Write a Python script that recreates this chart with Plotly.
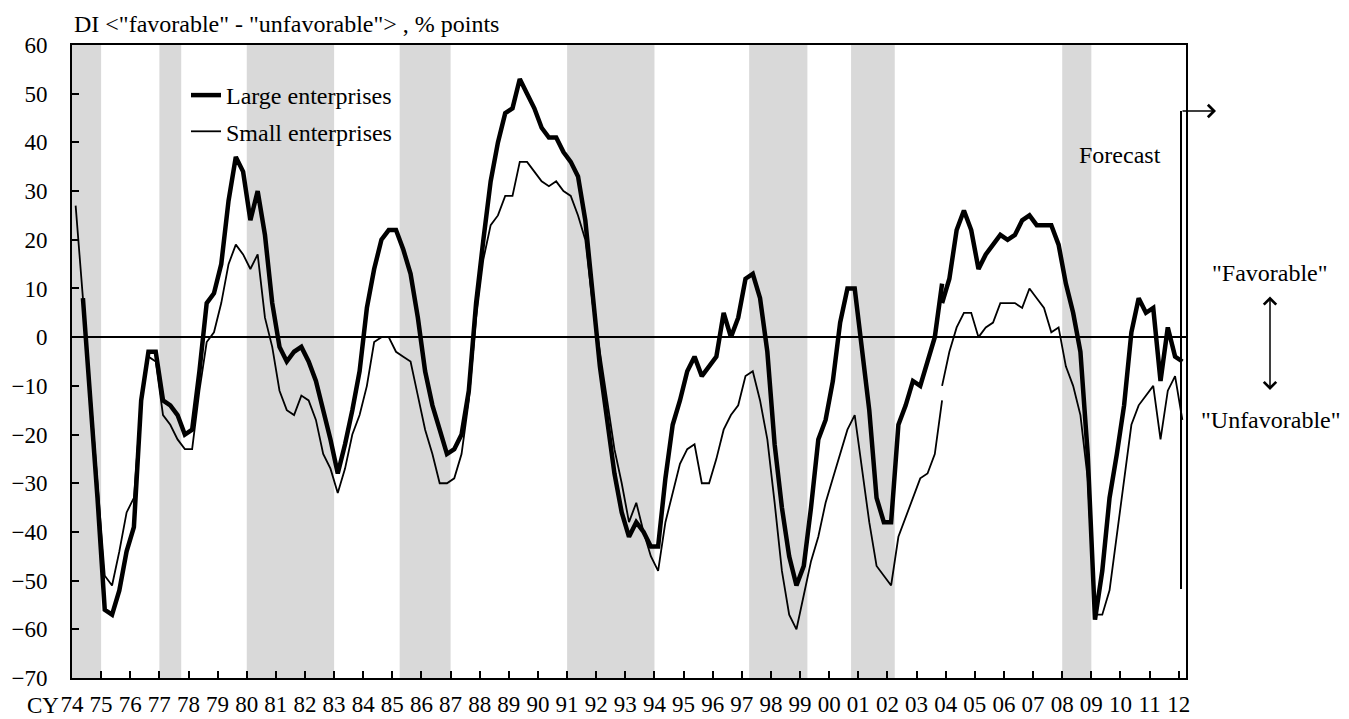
import plotly.graph_objects as go

# ---------------- data (quarterly, Tankan business conditions DI) ----------------
first_quarter = "1974Q1"          # first category on the axis
last_quarter = "2012Q1"           # last category (forecast)

# old basis series (up to 2003Q4) and new basis series (from 2003Q4)
large_old_start = "1974Q2"
large_old = [8, -12, -33, -56, -57, -52, -44, -39, -13, -3, -3, -13, -14, -16, -20, -19,
             -7, 7, 9, 15, 28, 37, 34, 24, 30, 21, 7, -2, -5, -3, -2, -5, -9, -15, -21,
             -28, -22, -15, -7, 6, 14, 20, 22, 22, 18, 13, 4, -7, -14, -19, -24, -23, -20,
             -11, 7, 20, 32, 40, 46, 47, 53, 50, 47, 43, 41, 41, 38, 36, 33, 24, 8, -6,
             -17, -28, -36, -41, -38, -40, -43, -43, -29, -18, -13, -7, -4, -8, -6, -4, 5,
             0, 4, 12, 13, 8, -3, -22, -35, -45, -51, -47, -35, -21, -17, -9, 3, 10, 10,
             -3, -15, -33, -38, -38, -18, -14, -9, -10, -5, 0, 11]
large_new_start = "2003Q4"
large_new = [7, 12, 22, 26, 22, 14, 17, 19, 21, 20, 21, 24, 25, 23, 23, 23, 19, 11, 5, -3,
             -24, -58, -48, -33, -24, -14, 1, 8, 5, 6, -9, 2, -4, -5]

small_old_start = "1974Q1"
small_old = [27, 8, -12, -31, -49, -51, -44, -36, -33, -13, -4, -5, -16, -18, -21, -23, -23,
             -11, -1, 1, 7, 15, 19, 17, 14, 17, 4, -2, -11, -15, -16, -12, -13, -17, -24,
             -27, -32, -27, -20, -16, -10, -1, 0, 0, -3, -4, -5, -12, -19, -24, -30, -30,
             -29, -24, -13, 4, 16, 23, 25, 29, 29, 36, 36, 34, 32, 31, 32, 30, 29, 25, 20,
             7, -3, -14, -23, -30, -38, -34, -40, -45, -48, -38, -32, -26, -23, -22, -30,
             -30, -25, -19, -16, -14, -8, -7, -13, -21, -34, -48, -57, -60, -53, -46, -41,
             -34, -29, -24, -19, -16, -27, -38, -47, -49, -51, -41, -37, -33, -29, -28,
             -24, -13]
small_new_start = "2003Q4"
small_new = [-10, -3, 2, 5, 5, 0, 2, 3, 7, 7, 7, 6, 10, 8, 6, 1, 2, -6, -10, -16, -29, -57,
             -57, -52, -41, -30, -18, -14, -12, -10, -21, -11, -8, -17]

# recession shading (first and last quarter of each shaded period)
shade_from = ["1974Q1", "1977Q1", "1980Q1", "1985Q2", "1991Q1", "1997Q2", "2000Q4", "2008Q1"]
shade_to = ["1974Q4", "1977Q3", "1982Q4", "1986Q4", "1993Q4", "1999Q1", "2002Q1", "2008Q4"]

year_labels = ["74", "75", "76", "77", "78", "79", "80", "81", "82", "83", "84", "85", "86",
               "87", "88", "89", "90", "91", "92", "93", "94", "95", "96", "97", "98", "99",
               "00", "01", "02", "03", "04", "05", "06", "07", "08", "09", "10", "11", "12"]
y_ticks = [-70, -60, -50, -40, -30, -20, -10, 0, 10, 20, 30, 40, 50, 60]


def qidx(q):
    y, n = q.split("Q")
    fy, fn = first_quarter.split("Q")
    return (int(y) - int(fy)) * 4 + (int(n) - int(fn))


def xs(start, values):
    s = qidx(start)
    return list(range(s, s + len(values)))


n_last = qidx(last_quarter)

FONT = "Liberation Serif, Times New Roman, serif"
FS = 24
TICK_FS = 23
fig = go.Figure()

fig.add_trace(go.Scatter(x=xs(large_old_start, large_old), y=large_old, mode="lines",
                         name="Large enterprises", line=dict(color="black", width=4.5),
                         legendgroup="a", showlegend=True))
fig.add_trace(go.Scatter(x=xs(large_new_start, large_new), y=large_new, mode="lines",
                         name="Large enterprises", line=dict(color="black", width=4.5),
                         legendgroup="a", showlegend=False))
fig.add_trace(go.Scatter(x=xs(small_old_start, small_old), y=small_old, mode="lines",
                         name="Small enterprises", line=dict(color="black", width=1.8),
                         legendgroup="b", showlegend=True))
fig.add_trace(go.Scatter(x=xs(small_new_start, small_new), y=small_new, mode="lines",
                         name="Small enterprises", line=dict(color="black", width=1.8),
                         legendgroup="b", showlegend=False))

for a, b in zip(shade_from, shade_to):
    fig.add_shape(type="rect", xref="x", yref="paper", x0=qidx(a) - 0.5, x1=qidx(b) + 0.5,
                  y0=0, y1=1, fillcolor="#d9d9d9", line=dict(width=0), layer="below")

# page offset of the figure (browser body margin) and plot-area box in screen pixels
OFF = 8
W, H = 1349 - OFF, 719 - OFF
L, R, T, B = 72, 1186, 45, 678


def px(x):
    return (x - L) / (R - L)


def py(y):
    return (B - y) / (B - T)


tf = dict(family=FONT, size=FS, color="black")
tickf = dict(family=FONT, size=TICK_FS, color="black")
fig.add_annotation(x=0, y=py(24), xref="paper", yref="paper", xanchor="left", yanchor="middle",
                   text='DI &lt;"favorable" - "unfavorable"&gt; , % points', showarrow=False,
                   font=tf)
fig.add_annotation(x=px(61), y=py(705), xref="paper", yref="paper", xanchor="right",
                   yanchor="middle", text="CY", showarrow=False, font=tickf)
fig.add_annotation(x=px(1120), y=py(155), xref="paper", yref="paper", xanchor="center",
                   yanchor="middle", text="Forecast", showarrow=False, font=tf)
fig.add_annotation(x=px(1270), y=py(273), xref="paper", yref="paper", xanchor="center",
                   yanchor="middle", text='"Favorable"', showarrow=False, font=tf)
fig.add_annotation(x=px(1271), y=py(420), xref="paper", yref="paper", xanchor="center",
                   yanchor="middle", text='"Unfavorable"', showarrow=False, font=tf)
# double-headed arrow
fig.add_annotation(x=px(1270), y=py(390), xref="paper", yref="paper", ax=0, ay=-95,
                   text="", showarrow=True, arrowhead=4, startarrowhead=4, arrowside="end+start",
                   arrowsize=1.6, startarrowsize=1.6, arrowwidth=1.5, arrowcolor="black")
# forecast bracket
fig.add_shape(type="line", xref="paper", yref="paper", x0=px(1181), x1=px(1181),
              y0=py(111), y1=py(589), line=dict(color="black", width=2))
fig.add_annotation(x=px(1216), y=py(111), xref="paper", yref="paper", ax=-35, ay=0,
                   text="", showarrow=True, arrowhead=4, arrowsize=1.6, arrowwidth=1.5,
                   arrowcolor="black")

fig.update_layout(
    width=W, height=H,
    margin=dict(l=L - OFF, r=W - (R - OFF), t=T - OFF, b=H - (B - OFF), autoexpand=False),
    paper_bgcolor="white", plot_bgcolor="white",
    font=tf,
    showlegend=True,
    legend=dict(x=px(186), y=py(73), xanchor="left", yanchor="top", bgcolor="rgba(0,0,0,0)",
                font=tf, tracegroupgap=2),
)
fig.update_xaxes(range=[-0.5, n_last + 0.5], showgrid=False, zeroline=False, automargin=False,
                 showline=True, linecolor="black", linewidth=2, mirror=True,
                 tickvals=[4 * k - 0.5 for k in range(len(year_labels))], ticktext=year_labels,
                 ticks="inside", ticklen=7, tickwidth=2, tickcolor="black",
                 ticklabelstandoff=4, tickfont=tickf)
fig.update_yaxes(range=[-70, 60], showgrid=False, zeroline=True, zerolinecolor="black",
                 zerolinewidth=2, showline=True, linecolor="black", linewidth=2, mirror=True,
                 automargin=False, tickvals=y_ticks, ticks="inside", ticklen=7, tickwidth=2,
                 tickcolor="black", ticklabelstandoff=18, tickfont=tickf)

fig.write_html("out.html")
